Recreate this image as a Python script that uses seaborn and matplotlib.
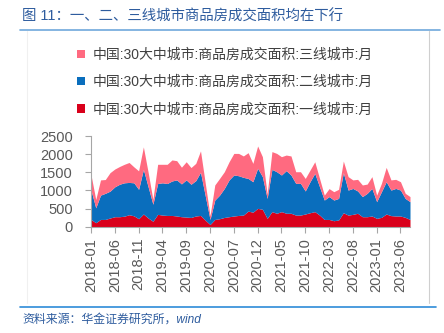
import numpy as np
import pandas as pd
import matplotlib
matplotlib.use("Agg")
import matplotlib.pyplot as plt
from matplotlib.patches import Patch
from matplotlib.lines import Line2D
import seaborn as sns

months = pd.date_range("2018-01-01", "2023-08-01", freq="MS").strftime("%Y-%m").tolist()

tier1 = [200, 110, 200, 200, 240, 275, 275, 290, 330, 300, 220, 350,
         240, 150, 340, 320, 310, 310, 295, 275, 265, 255, 295, 310,
         180, 60, 200, 220, 255, 275, 295, 310, 320, 430, 400, 505,
         480, 230, 415, 370, 415, 370, 370, 320, 320, 350, 385, 415,
         320, 200, 200, 165, 185, 385, 320, 340, 370, 275, 275, 295,
         230, 257, 350, 305, 295, 295, 257, 200]
tier2 = [810, 410, 670, 720, 740, 825, 895, 920, 890, 910, 810, 1230,
         860, 470, 850, 890, 880, 950, 995, 905, 1025, 915, 975, 1190,
         670, 140, 535, 650, 800, 1015, 1130, 1095, 1040, 900, 840, 1105,
         900, 550, 1165, 1145, 1010, 1175, 1055, 875, 875, 635, 855, 1055,
         780, 535, 630, 570, 595, 1105, 690, 715, 615, 555, 645, 760,
         460, 708, 890, 705, 760, 715, 523, 490]
tier3 = [420, 230, 420, 380, 510, 490, 490, 510, 550, 440, 510, 620,
         400, 130, 530, 510, 530, 580, 530, 460, 500, 460, 475, 590,
         350, 100, 415, 460, 460, 500, 595, 615, 590, 710, 505, 615,
         550, 120, 490, 505, 505, 430, 525, 320, 320, 345, 320, 320,
         230, 135, 220, 230, 250, 320, 370, 235, 320, 320, 255, 325,
         180, 230, 395, 280, 250, 230, 140, 140]

labels = ["中国:30大中城市:商品房成交面积:三线城市:月",
          "中国:30大中城市:商品房成交面积:二线城市:月",
          "中国:30大中城市:商品房成交面积:一线城市:月"]
title = "图 11：一、二、三线城市商品房成交面积均在下行"
source = "资料来源：华金证券研究所，wind"
yticks = [0, 500, 1000, 1500, 2000, 2500]

c_red = "#D9001B"
c_blue = "#0A6EBD"
c_pink = "#FF6A80"

sns.set_style("white")
plt.rcParams['font.family'] = ['Liberation Sans', 'Noto Sans CJK SC', 'DejaVu Sans']

fig = plt.figure(figsize=(4.44, 3.33), dpi=100)
ax = fig.add_axes([91/444, 1 - 226.7/333, (410 - 91)/444, (226.7 - 136)/333])

df = pd.DataFrame({"month": months, "t1": tier1, "t2": tier2, "t3": tier3})
x = np.arange(len(df))
ax.stackplot(x, df["t1"], df["t2"], df["t3"], colors=[c_red, c_blue, c_pink], linewidth=0)

ax.set_xlim(0, len(df) - 1)
ax.set_ylim(0, 2500)
ax.set_yticks(yticks)
ax.set_yticklabels([str(v) for v in yticks])
tick_idx = list(range(0, len(df), 5))
ax.set_xticks(tick_idx)
ax.set_xticklabels([months[i] for i in tick_idx], rotation=90)

for s in ["top", "right"]:
    ax.spines[s].set_visible(False)
for s in ["left", "bottom"]:
    ax.spines[s].set_color("#A6A6A6")
    ax.spines[s].set_linewidth(0.8)
ax.tick_params(axis="both", colors="#A6A6A6", labelcolor="#595959", labelsize=10.5,
               length=4, width=0.8, direction="out")
ax.tick_params(axis="y", pad=9)
ax.tick_params(axis="x", pad=4)
ax.tick_params(left=True, bottom=True)

handles = [Patch(facecolor=c_pink, edgecolor="none"),
           Patch(facecolor=c_blue, edgecolor="none"),
           Patch(facecolor=c_red, edgecolor="none")]
leg = fig.legend(handles, labels, loc="upper left", bbox_to_anchor=(77/444, 1 - 48/333),
                 frameon=False, fontsize=10, handlelength=0.55, handleheight=0.55,
                 handletextpad=0.55, labelspacing=0.95, borderpad=0, borderaxespad=0)
for t in leg.get_texts():
    t.set_color("#404040")

# title and decorations
fig.text(22/444, 1 - 17/333, title, color="#2E5C9E", fontsize=10.4, va="center", ha="left",
         family=['Liberation Sans', 'Noto Sans CJK SC'])
fig.add_artist(Line2D([20/444, 440/444], [1 - 29.5/333] * 2, color="#6FA8DC", lw=1.2))
fig.add_artist(Line2D([20/444, 436/444], [1 - 307/333] * 2, color="#2E8BD8", lw=1.2))
fig.add_artist(Line2D([429/444, 429/444], [1 - 31/333, 1 - 303/333], color="#CFCFCF", lw=0.8))
fig.add_artist(Line2D([27/444, 27/444], [1 - 31/333, 1 - 303/333], color="#F0F0F0", lw=0.8))
fig.text(22/444, 1 - 320/333, source, color="#2E5C9E", fontsize=8.6, style="italic",
         va="center", ha="left", family=['Liberation Sans', 'Noto Sans CJK SC'])

fig.savefig("out.png", dpi=100)
